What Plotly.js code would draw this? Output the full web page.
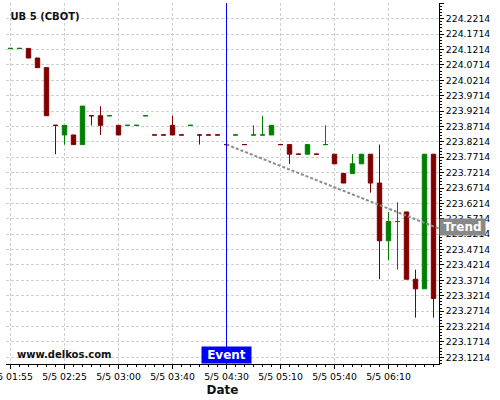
<!DOCTYPE html>
<html>
<head>
<meta charset="utf-8">
<script src="https://cdn.plot.ly/plotly-3.0.1.min.js"></script>
<style>html,body{margin:0;padding:0;background:#fff;}#chart{width:500px;height:400px;}</style>
</head>
<body>
<div id="chart"></div>
<script>
// Tick labels shown every 6th bar
const tickLabels = ['5/5 01:55','5/5 02:25','5/5 03:00','5/5 03:40','5/5 04:30','5/5 05:10','5/5 05:40','5/5 06:10'];

// OHLC values per 5-minute bar
const opens = [224.125,224.125,224.125,224.09375,224.0625,223.875,223.84375,223.84375,223.8125,223.90625,
  223.90625,223.90625,223.875,223.875,223.875,223.90625,223.84375,223.84375,223.875,223.84375,
  223.875,223.84375,223.84375,223.84375,223.8125,223.84375,223.8125,223.84375,223.84375,223.84375,
  223.8125,223.8125,223.78125,223.78125,223.78125,223.8125,223.78125,223.71875,223.71875,223.75,
  223.78125,223.6875,223.5,223.5625,223.59375,223.375,223.34375,223.78125];
const highs = [224.125,224.125,224.125,224.09375,224.0625,223.875,223.875,223.84375,223.9375,223.90625,
  223.9375,223.90625,223.875,223.875,223.875,223.90625,223.84375,223.84375,223.90625,223.84375,
  223.875,223.84375,223.84375,223.84375,223.8125,223.84375,223.8125,223.875,223.90625,223.875,
  223.8125,223.8125,223.78125,223.8125,223.78125,223.875,223.78125,223.71875,223.78125,223.78125,
  223.78125,223.8125,223.59375,223.625,223.59375,223.40625,223.78125,223.78125];
const lows = [224.125,224.125,224.09375,224.0625,223.90625,223.78125,223.8125,223.8125,223.8125,223.875,
  223.84375,223.90625,223.84375,223.875,223.875,223.90625,223.84375,223.84375,223.84375,223.84375,
  223.875,223.8125,223.84375,223.84375,223.8125,223.84375,223.8125,223.84375,223.84375,223.84375,
  223.8125,223.75,223.78125,223.78125,223.78125,223.8125,223.75,223.6875,223.71875,223.75,
  223.65625,223.375,223.4375,223.40625,223.375,223.25,223.34375,223.25];
const closes = [224.125,224.125,224.09375,224.0625,223.90625,223.875,223.875,223.8125,223.9375,223.90625,
  223.875,223.90625,223.84375,223.875,223.875,223.90625,223.84375,223.84375,223.84375,223.84375,
  223.875,223.84375,223.84375,223.84375,223.8125,223.84375,223.8125,223.84375,223.84375,223.875,
  223.8125,223.78125,223.78125,223.8125,223.78125,223.8125,223.75,223.6875,223.75,223.78125,
  223.6875,223.5,223.5625,223.5625,223.375,223.34375,223.78125,223.3125];
// 1 = green (up) bar, 0 = dark red (down) bar
const upBars = [1,1,0,0,0,0,1,0,1,0, 0,1,0,1,1,1,0,0,0,0, 1,0,0,0,0,1,0,1,1,1, 0,0,0,1,0,1,0,0,1,1, 0,0,1,1,0,0,1,0];

// Event and trend line
const eventBar = 24;
const eventLabel = 'Event';
const trendX = [24, 48];
const trendY = [223.8125, 223.535];
const trendLabel = 'Trend';
const trendLabelValue = 223.545;

const GREEN = '#008000', RED = '#800000';
const barIdx = opens.map((_, i) => i);

function subset(flag) {
  const idx = barIdx.filter(i => upBars[i] === flag);
  return {
    x: idx, open: idx.map(i => opens[i]), high: idx.map(i => highs[i]),
    low: idx.map(i => lows[i]), close: idx.map(i => closes[i])
  };
}
function candleTrace(flag, color) {
  const s = subset(flag);
  return Object.assign({
    type: 'candlestick', name: flag ? 'up' : 'down', showlegend: false, hoverinfo: 'skip',
    whiskerwidth: 0,
    increasing: {line: {color: color, width: 1}, fillcolor: color},
    decreasing: {line: {color: color, width: 1}, fillcolor: color}
  }, s);
}

const traces = [
  {type: 'scatter', mode: 'lines', x: trendX, y: trendY, showlegend: false, hoverinfo: 'skip',
   line: {color: '#8c8c8c', width: 2, dash: '3px,2px'}},
  candleTrace(1, GREEN),
  candleTrace(0, RED)
];

const tickFont = {family: 'DejaVu Sans', size: 9.3, color: '#000'};
const gridCol = '#cfcfcf';

const layout = {
  width: 500, height: 400,
  margin: {l: 6, r: 61, t: 3, b: 36, pad: 0},
  paper_bgcolor: '#fff', plot_bgcolor: '#fff',
  showlegend: false,
  title: {text: 'UB 5 (CBOT)', x: 0.021, xanchor: 'left', xref: 'container',
          y: 0.96, yanchor: 'middle', yref: 'container',
          font: {family: 'DejaVu Sans', size: 10, weight: 'bold', color: '#111'}},
  xaxis: {
    type: 'linear', range: [-0.5, 47.61], automargin: false,
    tickmode: 'array', tickvals: tickLabels.map((_, k) => k * 6), ticktext: tickLabels,
    ticklabeloverflow: 'allow',
    ticks: 'outside', ticklen: 4, tickcolor: '#000', tickfont: tickFont,
    showline: true, linecolor: '#000', linewidth: 1, mirror: false,
    showgrid: true, gridcolor: gridCol, griddash: '3px,2px', zeroline: false,
    minor: {ticks: 'outside', ticklen: 2, tickmode: 'linear', tick0: 0, dtick: 1, tickcolor: '#000', showgrid: false},
    rangeslider: {visible: false},
    title: {text: 'Date', standoff: 4, font: {family: 'DejaVu Sans', size: 12, weight: 'bold', color: '#111'}}
  },
  yaxis: {
    side: 'right', range: [223.0996, 224.2725], automargin: false,
    tickmode: 'linear', tick0: 223.1214, dtick: 0.05, tickformat: '.4f',
    ticks: 'outside', ticklen: 4, tickcolor: '#000', tickfont: tickFont,
    showline: true, linecolor: '#000', linewidth: 1,
    showgrid: true, gridcolor: gridCol, griddash: '3px,2px', zeroline: false,
    minor: {ticks: 'outside', ticklen: 2, tick0: 223.1214, dtick: 0.01, tickcolor: '#000', showgrid: false}
  },
  shapes: [{type: 'line', xref: 'x', yref: 'paper', x0: eventBar, x1: eventBar, y0: 0, y1: 1,
            line: {color: '#0000ff', width: 1}, layer: 'above'}],
  annotations: [
    {text: 'www.delkos.com', xref: 'paper', yref: 'paper', x: 0.021, y: 0.027, xanchor: 'left', yanchor: 'middle',
     showarrow: false, font: {family: 'DejaVu Sans', size: 10, weight: 'bold', color: '#111'}},
    {text: eventLabel, xref: 'x', yref: 'paper', x: eventBar, y: 0, xanchor: 'center', yanchor: 'bottom',
     showarrow: false, bgcolor: '#0000ff', borderpad: 1, width: 47, height: 14,
     font: {family: 'DejaVu Sans', size: 12, weight: 'bold', color: '#fff'}},
    {text: trendLabel, xref: 'paper', yref: 'y', x: 1, y: trendLabelValue, xanchor: 'left', yanchor: 'middle',
     showarrow: false, bgcolor: '#888888', borderpad: 1, width: 43, height: 14,
     font: {family: 'DejaVu Sans', size: 12, weight: 'bold', color: '#fff'}}
  ]
};

Plotly.newPlot('chart', traces, layout, {staticPlot: true, displayModeBar: false});
</script>
</body>
</html>
